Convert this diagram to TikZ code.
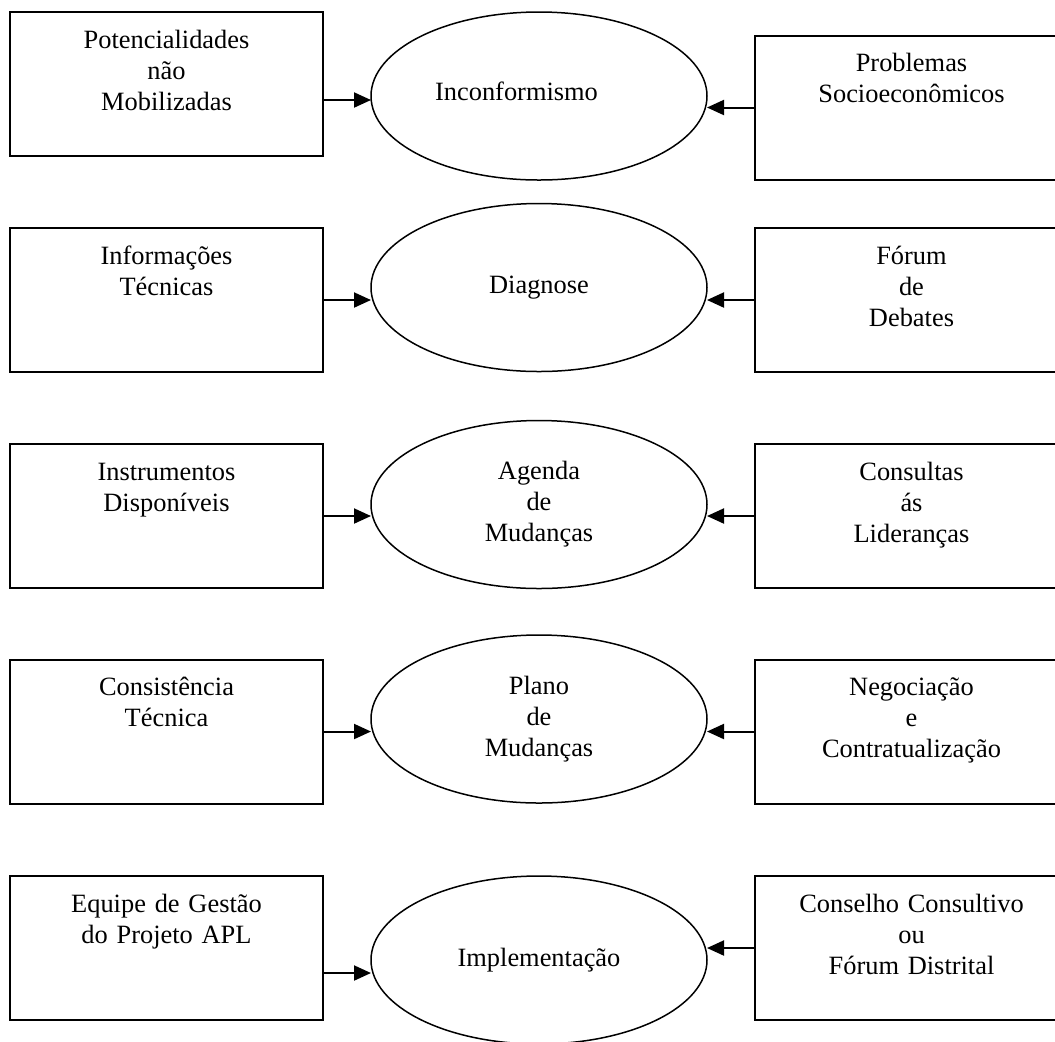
\documentclass[tikz,border=0pt]{standalone}
\usepackage{fontspec}
\setmainfont{Liberation Serif}
\usetikzlibrary{shapes.geometric,arrows.meta}

\begin{document}
\begin{tikzpicture}[x=0.5pt,y=-0.5pt,
    caixa/.style={draw,line width=1pt,minimum width=156.5pt,minimum height=72pt,inner sep=0pt,outer sep=0pt},
    bolha/.style={draw,ellipse,line width=0.75pt,minimum width=168pt,minimum height=84pt,inner sep=0pt,outer sep=0pt,
      align=center,font=\fontsize{13.2pt}{15.5pt}\selectfont},
    texto/.style={anchor=base,text width=150pt,align=center,inner sep=0pt,
      font=\fontsize{13.2pt}{15.5pt}\selectfont},
    seta/.style={line width=1pt,-{Triangle[length=8.5pt,width=7.5pt]}}]
    \useasboundingbox (0,0) rectangle (1055,1041);

    % linha 1
    \node[caixa] (L1) at (166.5,84) {};
    \node[caixa] (R1) at (911.5,107.5) {};
    \node[bolha] (E1) at (539,96) {};
    \node[texto] (tL1) at ([yshift=-18pt]L1.north) {Potencialidades\\não\\Mobilizadas};
    \node[texto] (tR1) at ([yshift=-18pt]R1.north) {Problemas\\Socioeconômicos};
    \node[texto] (tE1) at ([xshift=-11.25pt,yshift=-2pt]E1.center) {Inconformismo};
    \draw[seta] ([yshift=-8pt]L1.east) -- ([yshift=-8pt]L1.east -| E1.west);
    \draw[seta] (R1.west) -- (R1.west -| E1.east);

    % linha 2
    \node[caixa] (L2) at (166.5,300) {};
    \node[caixa] (R2) at (911.5,300) {};
    \node[bolha] (E2) at (539,287.5) {Diagnose};
    \node[texto] (tL2) at ([yshift=-18pt]L2.north) {Informações\\Técnicas};
    \node[texto] (tR2) at ([yshift=-18pt]R2.north) {Fórum\\de\\Debates};
    \draw[seta] (L2.east) -- (L2.east -| E2.west);
    \draw[seta] (R2.west) -- (R2.west -| E2.east);

    % linha 3
    \node[caixa] (L3) at (166.5,516) {};
    \node[caixa] (R3) at (911.5,516) {};
    \node[bolha] (E3) at (539,504.5) {Agenda\\de\\Mudanças};
    \node[texto] (tL3) at ([yshift=-18pt]L3.north) {Instrumentos\\Disponíveis};
    \node[texto] (tR3) at ([yshift=-18pt]R3.north) {Consultas\\ás\\Lideranças};
    \draw[seta] (L3.east) -- (L3.east -| E3.west);
    \draw[seta] (R3.west) -- (R3.west -| E3.east);

    % linha 4
    \node[caixa] (L4) at (166.5,731.5) {};
    \node[caixa] (R4) at (911.5,731.5) {};
    \node[bolha] (E4) at (539,719) {Plano\\de\\Mudanças};
    \node[texto] (tL4) at ([yshift=-18pt]L4.north) {Consistência\\Técnica};
    \node[texto] (tR4) at ([yshift=-18pt]R4.north) {Negociação\\e\\Contratualização};
    \draw[seta] (L4.east) -- (L4.east -| E4.west);
    \draw[seta] (R4.west) -- (R4.west -| E4.east);

    % linha 5
    \node[caixa] (L5) at (166.5,948) {};
    \node[caixa] (R5) at (911.5,948) {};
    \node[bolha] (E5) at (539,960) {Implementação};
    \node[texto] (tL5) at ([yshift=-18pt]L5.north) {Equipe de Gestão\\do Projeto APL};
    \node[texto] (tR5) at ([yshift=-18pt]R5.north) {Conselho Consultivo\\ou\\Fórum Distrital};
    \draw[seta] ([yshift=-12.5pt]L5.east) -- ([yshift=-12.5pt]L5.east -| E5.west);
    \draw[seta] (R5.west) -- (R5.west -| E5.east);
\end{tikzpicture}
\end{document}
